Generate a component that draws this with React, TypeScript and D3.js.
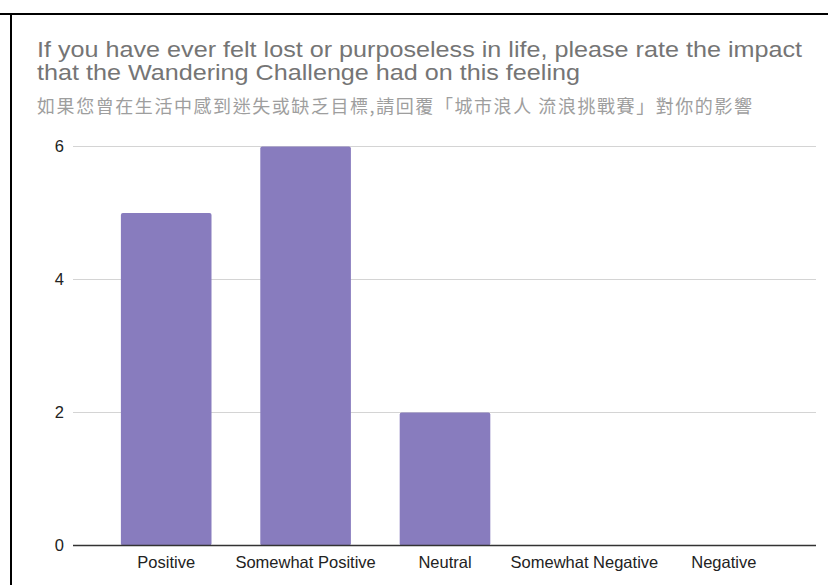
import React from "react";
import * as d3 from "d3";

const categories = ["Positive", "Somewhat Positive", "Neutral", "Somewhat Negative", "Negative"];
const counts = [5, 6, 2, 0, 0];
const yTicks = [0, 2, 4, 6];
const titleLines = [
  "If you have ever felt lost or purposeless in life, please rate the impact",
  "that the Wandering Challenge had on this feeling",
];
// rendered widths of the two title lines
const titleWidths = [765, 543];
const subtitle = "如果您曾在生活中感到迷失或缺乏目標,請回覆「城市浪人 流浪挑戰賽」對你的影響";

const W = 828;
const H = 585;
const gridLeft = 73;
const gridRight = 816;

export default function App() {
  const y = d3.scaleLinear().domain([0, 6]).range([545.5, 146.5]);
  const x = d3
    .scaleBand<string>()
    .domain(categories)
    .range([96.5, 793.5])
    .paddingInner(0.35)
    .paddingOuter(0.175);

  const sans = "'Liberation Sans', Arial, Helvetica, sans-serif";

  return (
    <div style={{ position: "absolute", left: 0, top: 0 }}>
      <svg width={W} height={H} style={{ display: "block", background: "#fff" }}>
        {/* frame */}
        <line x1={0} x2={W} y1={14} y2={14} stroke="#000" strokeWidth={2} />
        <line x1={11} x2={11} y1={13} y2={H} stroke="#000" strokeWidth={2} />

        {/* title */}
        {titleLines.map((t, i) => (
          <text
            key={i}
            x={37}
            y={57 + i * 23.3}
            fontFamily={sans}
            fontSize={21.5}
            fill="#757575"
            textLength={titleWidths[i]}
            lengthAdjust="spacingAndGlyphs"
          >
            {t}
          </text>
        ))}
        <text
          x={37}
          y={113}
          fontFamily="'Noto Sans CJK TC', 'Noto Sans CJK SC', sans-serif"
          fontSize={18}
          fill="#9e9e9e"
          textLength={715}
          lengthAdjust="spacing"
        >
          {subtitle}
        </text>

        {/* gridlines and y ticks */}
        {yTicks.map((t) => (
          <g key={t}>
            {t !== 0 && (
              <line x1={gridLeft} x2={gridRight} y1={y(t)} y2={y(t)} stroke="#d4d4d4" strokeWidth={1} />
            )}
            <text
              x={64}
              y={y(t)}
              dy="0.36em"
              textAnchor="end"
              fontFamily={sans}
              fontSize={16.5}
              fill="#222"
            >
              {t}
            </text>
          </g>
        ))}

        {/* bars */}
        {categories.map((c, i) =>
          counts[i] > 0 ? (
            <rect
              key={c}
              x={x(c)}
              y={y(counts[i])}
              width={x.bandwidth()}
              height={y(0) - y(counts[i])}
              rx={2}
              fill="#887cbe"
            />
          ) : null
        )}

        {/* baseline */}
        <line x1={gridLeft} x2={gridRight} y1={y(0)} y2={y(0)} stroke="#333" strokeWidth={1.5} />

        {/* category labels */}
        {categories.map((c) => (
          <text
            key={c}
            x={(x(c) ?? 0) + x.bandwidth() / 2}
            y={568}
            textAnchor="middle"
            fontFamily={sans}
            fontSize={16.5}
            fill="#222"
          >
            {c}
          </text>
        ))}
      </svg>
    </div>
  );
}
